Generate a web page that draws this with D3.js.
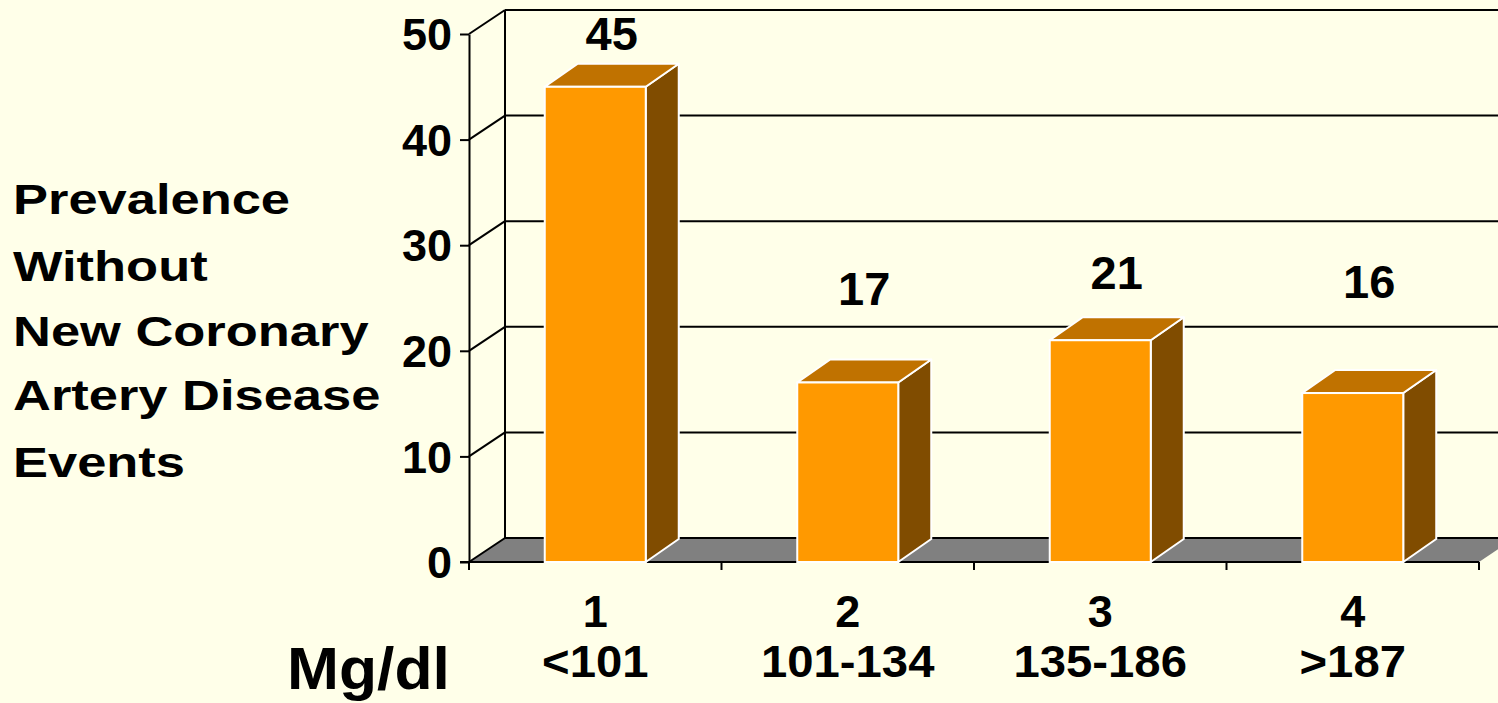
<!DOCTYPE html>
<html><head><meta charset="utf-8">
<script src="https://cdn.jsdelivr.net/npm/d3@7"></script>
<style>
html,body{margin:0;padding:0;background:#FFFFE9;}
svg{display:block;}
text{font-family:"Liberation Sans",Arial,sans-serif;font-weight:bold;fill:#000;}
</style></head>
<body>
<svg id="chart" width="1498" height="703"></svg>
<script>
// ---- data ----
const categories = ["1", "2", "3", "4"];
const rangeLabels = ["<101", "101-134", "135-186", ">187"];
const values = [45, 17, 21, 16];
const yTicks = [0, 10, 20, 30, 40, 50];
const titleLines = ["Prevalence", "Without", "New Coronary", "Artery Disease", "Events"];
const unitLabel = "Mg/dl";

// ---- layout ----
const W = 1498, H = 703;
const plot = {left: 469, right: 1479, top: 34, bottom: 562};
const wallDepth = {dx: 36, dy: -24};
const barDepth = {dx: 33, dy: -23};
const labelLift = [14, 54, 28, 72];   // manual label placement above bar tops (px)
const titleBaselines = [214, 281, 346, 410, 477];
const colors = {front: "#FF9900", top: "#C07200", side: "#804C00", floor: "#808080"};

const svg = d3.select("#chart");
svg.append("rect").attr("width", W).attr("height", H).attr("fill", "#FFFFE9");

const y = d3.scaleLinear().domain([0, 50]).range([plot.bottom, plot.top]);
const x = d3.scaleBand().domain(categories).range([plot.left, plot.right]).padding(0);
const barW = x.bandwidth() * 0.4;

// floor
const fy = y(0);
svg.append("path")
  .attr("d", d3.line()([[plot.left, fy], [plot.right, fy],
    [plot.right + wallDepth.dx, fy + wallDepth.dy], [plot.left + wallDepth.dx, fy + wallDepth.dy]]) + "Z")
  .attr("fill", colors.floor);

// back-wall and side-wall gridlines
const grid = svg.append("g").attr("stroke", "#000").attr("stroke-width", 2).attr("fill", "none");
yTicks.forEach(t => {
  const yy = y(t);
  grid.append("line").attr("x1", plot.left + wallDepth.dx).attr("x2", W + 40)
    .attr("y1", yy + wallDepth.dy).attr("y2", yy + wallDepth.dy);
  grid.append("line").attr("x1", plot.left).attr("y1", yy)
    .attr("x2", plot.left + wallDepth.dx).attr("y2", yy + wallDepth.dy);
});
grid.append("line").attr("x1", plot.left + wallDepth.dx).attr("x2", plot.left + wallDepth.dx)
  .attr("y1", y(0) + wallDepth.dy).attr("y2", y(50) + wallDepth.dy);

// y axis
const yAxis = svg.append("g").attr("transform", `translate(${plot.left},0)`)
  .call(d3.axisLeft(y).tickValues(yTicks).tickSize(9).tickSizeOuter(0).tickPadding(8));
yAxis.select(".domain").attr("stroke", "#000").attr("stroke-width", 2);
yAxis.selectAll(".tick line").attr("stroke", "#000").attr("stroke-width", 2);
yAxis.selectAll(".tick text").attr("font-size", 45).attr("font-family", '"Liberation Sans",Arial,sans-serif')
  .attr("font-weight", "bold").attr("fill", "#000").attr("dy", "0.35em");

// x axis (front edge of floor)
const xAxisG = svg.append("g");
xAxisG.append("line").attr("x1", plot.left - 9).attr("x2", plot.right)
  .attr("y1", fy).attr("y2", fy).attr("stroke", "#000").attr("stroke-width", 2);
const bounds = categories.map(c => x(c)).concat([x(categories[categories.length - 1]) + x.bandwidth()]);
xAxisG.selectAll(".xt").data(bounds).join("line")
  .attr("x1", d => d).attr("x2", d => d).attr("y1", fy).attr("y2", fy + 8)
  .attr("stroke", "#000").attr("stroke-width", 2);

// bars
const bars = svg.append("g").selectAll("g").data(values).join("g");
bars.each(function(v, i) {
  const g = d3.select(this);
  const x0 = x(categories[i]) + (x.bandwidth() - barW) / 2;
  const x1 = x0 + barW;
  const yt = y(v), yb = y(0);
  const dx = barDepth.dx, dy = barDepth.dy;
  const line = d3.line();
  g.append("path").attr("d", line([[x1, yb], [x1 + dx, yb + dy], [x1 + dx, yt + dy], [x1, yt]]) + "Z")
    .attr("fill", colors.side).attr("stroke", "#fff").attr("stroke-width", 2).attr("stroke-linejoin", "round");
  g.append("path").attr("d", line([[x0, yt], [x1, yt], [x1 + dx, yt + dy], [x0 + dx, yt + dy]]) + "Z")
    .attr("fill", colors.top).attr("stroke", "#fff").attr("stroke-width", 2).attr("stroke-linejoin", "round");
  g.append("rect").attr("x", x0).attr("y", yt).attr("width", barW).attr("height", yb - yt)
    .attr("fill", colors.front).attr("stroke", "#fff").attr("stroke-width", 2);
  g.append("text").attr("x", (x0 + x1) / 2 + dx / 2).attr("y", yt + dy - labelLift[i])
    .attr("text-anchor", "middle").attr("font-size", 47).text(v);
});

// category labels
const xl = svg.append("g");
categories.forEach((c, i) => {
  const cx = x(c) + x.bandwidth() / 2;
  xl.append("text").attr("x", cx).attr("y", 627).attr("text-anchor", "middle").attr("font-size", 45).text(c);
  xl.append("text").attr("x", cx).attr("y", 677).attr("text-anchor", "middle").attr("font-size", 45)
    .attr("transform", `translate(${cx},0) scale(1.05,1) translate(${-cx},0)`).text(rangeLabels[i]);
});

// unit label
svg.append("text").attr("x", 287).attr("y", 689).attr("font-size", 60)
  .attr("transform", "translate(287,0) scale(1.04,1) translate(-287,0)").text(unitLabel);

// title (stretched horizontally like the original slide)
const tg = svg.append("g").attr("transform", "translate(13,0) scale(1.22,1)");
titleLines.forEach((t, i) => {
  tg.append("text").attr("x", 0).attr("y", titleBaselines[i]).attr("font-size", 43).text(t);
});
</script>
</body></html>
